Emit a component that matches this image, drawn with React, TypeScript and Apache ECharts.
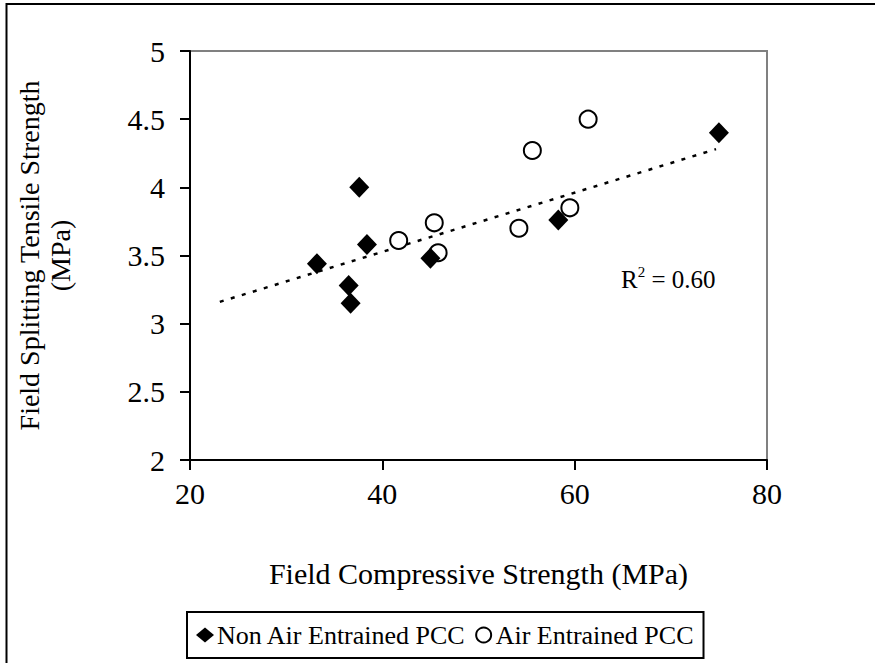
import React, { useEffect, useRef } from "react";
import * as echarts from "echarts";

const FONT = '"Liberation Serif", "Times New Roman", serif';

const nonAirX = [33.2, 36.5, 36.7, 37.6, 38.4, 45.0, 58.3, 75.0];
const nonAirY = [3.44, 3.28, 3.15, 4.0, 3.58, 3.48, 3.76, 4.4];
const airX = [41.7, 45.4, 45.8, 54.2, 55.6, 59.5, 61.4];
const airY = [3.61, 3.74, 3.52, 3.7, 4.27, 3.85, 4.5];
const trendX = [23.1, 74.7];
const trendY = [3.16, 4.28];
const xTicks = [20, 40, 60, 80];
const yTicks = [2, 2.5, 3, 3.5, 4, 4.5, 5];
const seriesNames = ["Non Air Entrained PCC", "Air Entrained PCC"];
const r2Label = "0.60";

export default function App() {
  const ref = useRef<HTMLDivElement>(null);
  useEffect(() => {
    document.body.style.margin = "0";
    const chart = echarts.init(ref.current!, null, { renderer: "svg" });
    const zip = (xs: number[], ys: number[]) => xs.map((x, i) => [x, ys[i]]);
    chart.setOption({
      animation: false,
      backgroundColor: "#ffffff",
      textStyle: { fontFamily: FONT },
      grid: {
        left: 190,
        top: 51,
        width: 577,
        height: 409,
        show: true,
        borderColor: "#808080",
        borderWidth: 2,
        backgroundColor: "transparent",
      },
      xAxis: {
        type: "value",
        min: xTicks[0],
        max: xTicks[xTicks.length - 1],
        interval: 20,
        name: "Field Compressive Strength (MPa)",
        nameLocation: "middle",
        nameGap: 98,
        nameTextStyle: { fontFamily: FONT, fontSize: 30, color: "#000" },
        axisLine: { show: true, onZero: false, lineStyle: { color: "#000", width: 2 } },
        axisTick: { show: true, inside: false, length: 10, lineStyle: { color: "#000", width: 2 } },
        axisLabel: { fontFamily: FONT, fontSize: 30, color: "#000", margin: 18 },
        splitLine: { show: false },
      },
      yAxis: {
        type: "value",
        min: yTicks[0],
        max: yTicks[yTicks.length - 1],
        interval: 0.5,
        name: "Field Splitting Tensile Strength\n(MPa)",
        nameLocation: "middle",
        nameGap: 114,
        nameRotate: 90,
        nameTextStyle: { fontFamily: FONT, fontSize: 28, color: "#000", lineHeight: 31 },
        axisLine: { show: true, onZero: false, lineStyle: { color: "#000", width: 2 } },
        axisTick: { show: true, inside: false, length: 10, lineStyle: { color: "#000", width: 2 } },
        axisLabel: { fontFamily: FONT, fontSize: 30, color: "#000", margin: 25 },
        splitLine: { show: false },
      },
      legend: {
        left: 187,
        top: 612,
        data: seriesNames,
        orient: "horizontal",
        itemWidth: 18,
        itemHeight: 15,
        itemGap: 9,
        padding: [10, 10, 10, 9],
        borderColor: "#000",
        borderWidth: 2,
        textStyle: { fontFamily: FONT, fontSize: 26, color: "#000", padding: [0, 0, 0, -2] },
      },
      graphic: [
        {
          type: "rect",
          silent: true,
          shape: { x: 6.5, y: 4, width: 920, height: 720 },
          style: { fill: "none", stroke: "#000", lineWidth: 2 },
          z: 100,
        },
        {
          type: "text",
          left: 621,
          top: 262,
          style: {
            text: "{r|R}{s|2}{r| = " + r2Label + "}",
            fontFamily: FONT,
            rich: {
              r: { fontFamily: FONT, fontSize: 25, color: "#000", lineHeight: 30, verticalAlign: "bottom" },
              s: { fontFamily: FONT, fontSize: 15, color: "#000", lineHeight: 30, verticalAlign: "top", padding: [2, 0, 0, 0] },
            },
          },
        },
      ],
      series: [
        {
          name: "trend",
          type: "line",
          data: zip(trendX, trendY),
          showSymbol: false,
          symbol: "none",
          lineStyle: { color: "#000", width: 2.5, type: [4, 7.5] },
          silent: true,
          z: 1,
        },
        {
          name: seriesNames[0],
          type: "scatter",
          data: zip(nonAirX, nonAirY),
          symbol: "diamond",
          symbolSize: [20, 21],
          itemStyle: { color: "#000", borderWidth: 0, opacity: 1 },
          z: 3,
        },
        {
          name: seriesNames[1],
          type: "scatter",
          data: zip(airX, airY),
          symbol: "circle",
          symbolSize: 17,
          itemStyle: { color: "#fff", borderColor: "#000", borderWidth: 2, opacity: 1 },
          z: 2,
        },
      ],
    });
    return () => chart.dispose();
  }, []);
  return <div ref={ref} style={{ width: 875, height: 663 }} />;
}
